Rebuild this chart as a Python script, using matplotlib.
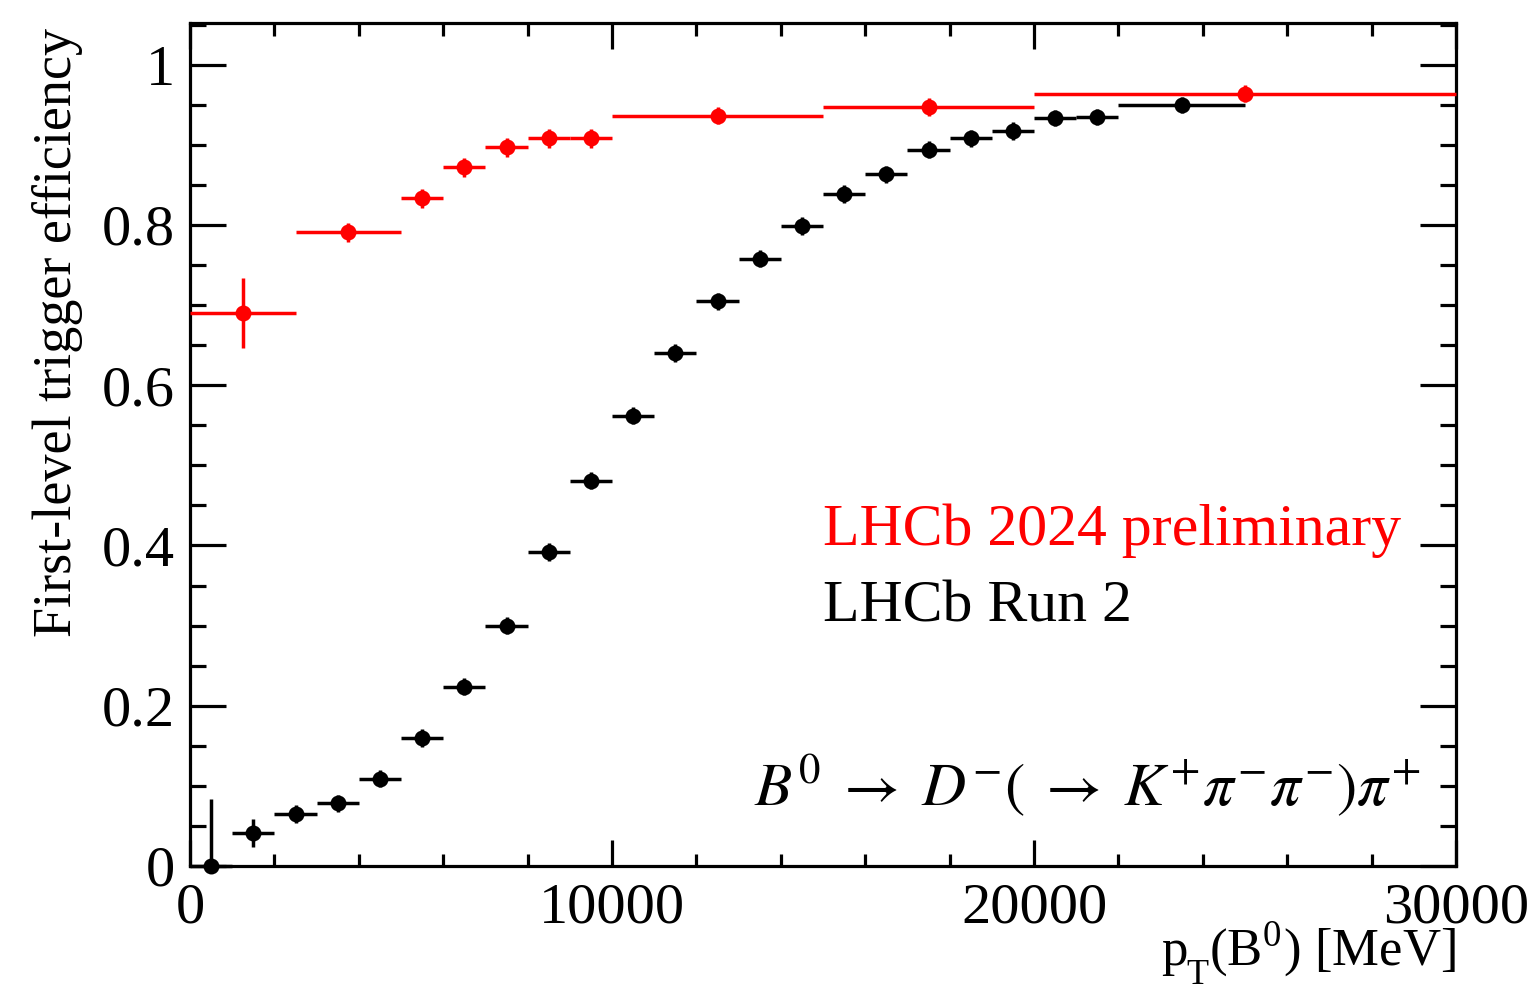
import matplotlib
matplotlib.use("Agg")
import matplotlib.pyplot as plt
from matplotlib.ticker import MultipleLocator
import numpy as np

plt.rcParams['font.family'] = ['Liberation Serif', 'DejaVu Serif']
plt.rcParams['mathtext.fontset'] = 'stix'

# Run 2 (black)
run2_lo = [0, 1000, 2000, 3000, 4000, 5000, 6000, 7000, 8000, 9000, 10000,
           11000, 12000, 13000, 14000, 15000, 16000, 17000, 18000, 19000,
           20000, 21000, 22000]
run2_hi = [1000, 2000, 3000, 4000, 5000, 6000, 7000, 8000, 9000, 10000, 11000,
           12000, 13000, 14000, 15000, 16000, 17000, 18000, 19000, 20000,
           21000, 22000, 25000]
run2_eff = [0.0, 0.041, 0.0645, 0.078, 0.109, 0.160, 0.224, 0.300, 0.392,
            0.481, 0.562, 0.640, 0.7045, 0.758, 0.799, 0.8385, 0.863, 0.894,
            0.908, 0.917, 0.933, 0.935, 0.950]
run2_err_lo = [0.0, 0.0175, 0.011, 0.011, 0.011, 0.011, 0.011, 0.011, 0.011,
               0.011, 0.011, 0.011, 0.011, 0.011, 0.011, 0.011, 0.011, 0.011,
               0.011, 0.011, 0.010, 0.010, 0.010]
run2_err_hi = [0.083, 0.0175, 0.011, 0.011, 0.011, 0.011, 0.011, 0.011, 0.011,
               0.011, 0.011, 0.011, 0.011, 0.011, 0.011, 0.011, 0.011, 0.011,
               0.011, 0.011, 0.010, 0.010, 0.010]

# 2024 preliminary (red)
y24_lo = [0, 2500, 5000, 6000, 7000, 8000, 9000, 10000, 15000, 20000]
y24_hi = [2500, 5000, 6000, 7000, 8000, 9000, 10000, 15000, 20000, 30000]
y24_eff = [0.690, 0.791, 0.833, 0.872, 0.897, 0.908, 0.908, 0.9365, 0.947, 0.964]
y24_err = [0.044, 0.012, 0.012, 0.012, 0.012, 0.012, 0.012, 0.011, 0.011, 0.011]

W, H = 1536, 989
fig = plt.figure(figsize=(W / 100, H / 100), dpi=100)
ax = fig.add_axes([190 / W, 1 - 866 / H, (1456 - 190) / W, (866 - 23) / H])

def draw(lo, hi, eff, elo, ehi, color, z):
    lo = np.array(lo, float); hi = np.array(hi, float)
    x = (lo + hi) / 2
    xerr = [x - lo, hi - x]
    ax.errorbar(x, eff, xerr=xerr, yerr=[elo, ehi], fmt='o', color=color,
                ecolor=color, elinewidth=2.5, capsize=0, markersize=11.5,
                markeredgewidth=0, zorder=z, clip_on=False)

draw(run2_lo, run2_hi, run2_eff, run2_err_lo, run2_err_hi, 'black', 3)
draw(y24_lo, y24_hi, y24_eff, y24_err, y24_err, '#ff0000', 4)

ax.set_xlim(0, 30000)
ax.set_ylim(0, 1.052)
ax.xaxis.set_minor_locator(MultipleLocator(2000))
ax.yaxis.set_minor_locator(MultipleLocator(0.05))
ax.set_yticks([0, 0.2, 0.4, 0.6, 0.8, 1.0])
ax.set_yticklabels(['0', '0.2', '0.4', '0.6', '0.8', '1'])
ax.set_xticks([0, 10000, 20000, 30000])
ax.set_xticklabels(['0', '10000', '20000', '30000'])

for s in ax.spines.values():
    s.set_linewidth(2.3)
ax.tick_params(axis='both', which='both', direction='in', top=True, right=True,
               width=2.3, labelsize=42)
ax.tick_params(axis='x', which='major', length=19, pad=12)
ax.tick_params(axis='x', which='minor', length=9)
ax.tick_params(axis='y', which='major', length=26, pad=11)
ax.tick_params(axis='y', which='minor', length=11.5)

fig.text(58 / W, 1 - 28 / H, 'First-level trigger efficiency', rotation=90,
         ha='center', va='top', fontsize=39)

# x-axis title, right-aligned at the axis end, with a low subscript T
main = fig.text(1456 / W, 1 - 965 / H, r'(B$^\mathregular{0}$) [MeV]',
                ha='right', va='baseline', fontsize=38)
fig.canvas.draw()
r = fig.canvas.get_renderer()
x0 = main.get_window_extent(r).x0
tsub = fig.text((x0 - 1) / W, 1 - 984 / H, 'T', ha='right', va='baseline',
                fontsize=26)
fig.canvas.draw()
x1 = tsub.get_window_extent(r).x0
fig.text((x1 + 1) / W, 1 - 965 / H, 'p', ha='right', va='baseline', fontsize=38)

fig.text(823 / W, 1 - 545 / H, 'LHCb 2024 preliminary', color='#ff0000',
         ha='left', va='baseline', fontsize=43)
fig.text(823 / W, 1 - 622 / H, 'LHCb Run 2', color='black',
         ha='left', va='baseline', fontsize=43)
fig.text(1420 / W, 1 - 805 / H,
         r'$B^0\; \rightarrow\; D^{-}(\;\rightarrow\; K^{+}\pi^{-}\pi^{-})\pi^{+}$',
         ha='right', va='baseline', fontsize=44)

fig.savefig('out.png', dpi=100)
